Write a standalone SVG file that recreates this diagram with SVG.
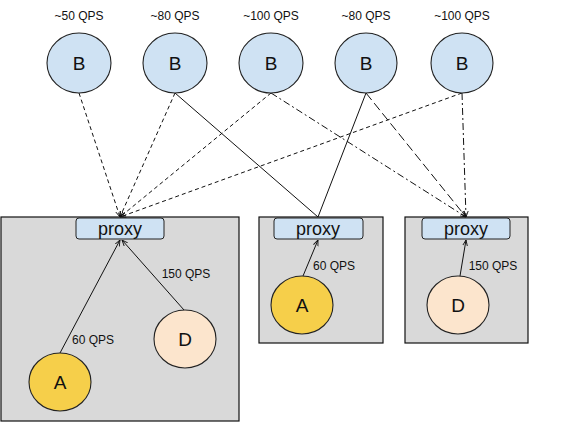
<svg xmlns="http://www.w3.org/2000/svg" width="585" height="434" viewBox="0 0 585 434">
<defs>
<style>
text{font-family:"Liberation Sans",Arial,sans-serif;fill:#111;text-anchor:middle}
.q{font-size:12px}
.n{font-size:19px}
.p{font-size:18px}
.box{fill:#d9d9d9;stroke:#111;stroke-width:1.2}
.prx{fill:#cfe2f3;stroke:#222;stroke-width:1}
.b{fill:#cfe2f3;stroke:#222;stroke-width:1.1}
.a{fill:#f6cf4a;stroke:#222;stroke-width:1.1}
.d{fill:#fce5cd;stroke:#222;stroke-width:1.1}
.c{fill:none;stroke:#111;stroke-width:1}
.dash{stroke-dasharray:4 3}
.dd{stroke-dasharray:7 3 2 3}
.ld{stroke-dasharray:9 4}
</style>
<marker id="ar" viewBox="0 0 10 10" refX="10" refY="5" markerWidth="6" markerHeight="6" orient="auto">
<path d="M0,1 L10,5 L0,9" fill="none" stroke="#111" stroke-width="1.5"/>
</marker>
</defs>
<rect width="585" height="434" fill="#fff"/>
<g id="cluster1"><rect class="box" x="1" y="217" width="238" height="204"/></g>
<g id="cluster2"><rect class="box" x="259" y="217" width="124" height="126"/></g>
<g id="cluster3"><rect class="box" x="405" y="217" width="123" height="126"/></g>
<g id="connectors">
<line class="c dash" x1="79" y1="93" x2="120" y2="217" marker-end="url(#ar)"/>
<line class="c dash" x1="175" y1="93" x2="120" y2="217" marker-end="url(#ar)"/>
<line class="c dash" x1="271" y1="93" x2="120" y2="217" marker-end="url(#ar)"/>
<line class="c dash" x1="462" y1="93" x2="120" y2="217" marker-end="url(#ar)"/>
<line class="c" x1="175" y1="93" x2="318" y2="217"/>
<line class="c" x1="366" y1="93" x2="318" y2="217"/>
<line class="c dd" x1="271" y1="93" x2="466" y2="217" marker-end="url(#ar)"/>
<line class="c ld" x1="366" y1="93" x2="466" y2="217" marker-end="url(#ar)"/>
<line class="c dd" x1="462" y1="93" x2="466" y2="217" marker-end="url(#ar)"/>
<line class="c" x1="60" y1="353" x2="120" y2="240" marker-end="url(#ar)"/>
<line class="c" x1="184" y1="310" x2="122" y2="240" marker-end="url(#ar)"/>
<line class="c" x1="303" y1="276" x2="318" y2="240" marker-end="url(#ar)"/>
<line class="c" x1="460" y1="276" x2="466" y2="240" marker-end="url(#ar)"/>
<text class="q" x="93" y="344">60 QPS</text>
<text class="q" x="186" y="278">150 QPS</text>
<text class="q" x="334" y="270">60 QPS</text>
<text class="q" x="493" y="270">150 QPS</text>
</g>
<g id="b1"><ellipse class="b" cx="79" cy="63" rx="32" ry="30"/><text class="n" x="79" y="70">B</text><text class="q" x="79" y="20">~50 QPS</text></g>
<g id="b2"><ellipse class="b" cx="175" cy="63" rx="32" ry="30"/><text class="n" x="175" y="70">B</text><text class="q" x="175" y="20">~80 QPS</text></g>
<g id="b3"><ellipse class="b" cx="271" cy="63" rx="32" ry="30"/><text class="n" x="271" y="70">B</text><text class="q" x="271" y="20">~100 QPS</text></g>
<g id="b4"><ellipse class="b" cx="366" cy="63" rx="31" ry="30"/><text class="n" x="366" y="70">B</text><text class="q" x="366" y="20">~80 QPS</text></g>
<g id="b5"><ellipse class="b" cx="462" cy="63" rx="31" ry="30"/><text class="n" x="462" y="70">B</text><text class="q" x="462" y="20">~100 QPS</text></g>
<g id="proxy1"><rect class="prx" x="76" y="218" width="88" height="21" rx="3"/><text class="p" x="120" y="235">proxy</text></g>
<g id="proxy2"><rect class="prx" x="274" y="218" width="89" height="21" rx="3"/><text class="p" x="318" y="235">proxy</text></g>
<g id="proxy3"><rect class="prx" x="422" y="218" width="88" height="21" rx="3"/><text class="p" x="466" y="235">proxy</text></g>
<g id="a1"><ellipse class="a" cx="60" cy="382" rx="31" ry="29"/><text class="n" x="60" y="389">A</text></g>
<g id="d1"><ellipse class="d" cx="185" cy="339" rx="31" ry="29"/><text class="n" x="185" y="346">D</text></g>
<g id="a2"><ellipse class="a" cx="302" cy="305" rx="31" ry="29"/><text class="n" x="302" y="312">A</text></g>
<g id="d2"><ellipse class="d" cx="458" cy="305" rx="31" ry="29"/><text class="n" x="458" y="312">D</text></g>
</svg>
